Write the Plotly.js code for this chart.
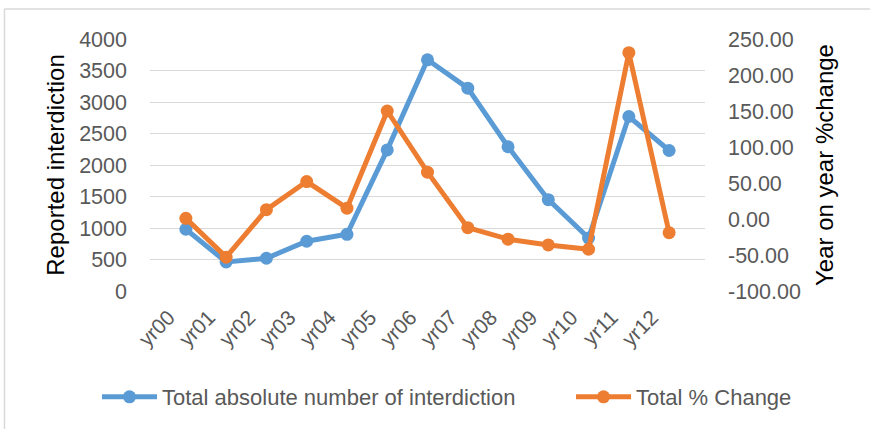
<!DOCTYPE html>
<html>
<head>
<meta charset="utf-8">
<script src="https://cdn.plot.ly/plotly-3.0.1.min.js"></script>
<style>
  html, body { margin: 0; padding: 0; background: #ffffff; }
  #chart { width: 870px; height: 429px; }
</style>
</head>
<body>
<div id="chart"></div>
<script>
const categories = ["yr00","yr01","yr02","yr03","yr04","yr05","yr06","yr07","yr08","yr09","yr10","yr11","yr12"];
const totalAbsolute = [980, 460, 520, 790, 900, 2240, 3670, 3220, 2290, 1450, 840, 2770, 2230];
const totalPctChange = [1, -53, 13, 52, 15, 150, 65, -12, -28, -36, -42, 231, -19];
const leftTickVals = [0, 500, 1000, 1500, 2000, 2500, 3000, 3500, 4000];
const rightTickVals = [-100, -50, 0, 50, 100, 150, 200, 250];
const rightTickText = rightTickVals.map(v => v.toFixed(2));

const FONT = "Liberation Sans, Arial, sans-serif";
const GRAY = "#595959";

const traces = [
  {
    x: categories, y: totalAbsolute, name: "Total absolute number of interdiction",
    type: "scatter", mode: "lines+markers", yaxis: "y", legend: "legend",
    line: { color: "#5B9BD5", width: 5 },
    marker: { color: "#5B9BD5", size: 13 }
  },
  {
    x: categories, y: totalPctChange, name: "Total % Change",
    type: "scatter", mode: "lines+markers", yaxis: "y2", legend: "legend2",
    line: { color: "#ED7D31", width: 5 },
    marker: { color: "#ED7D31", size: 13 }
  }
];

const legendCommon = {
  orientation: "h", xanchor: "left", yanchor: "middle", y: -0.4206,
  font: { family: FONT, color: GRAY, size: 22 },
  bgcolor: "rgba(0,0,0,0)", itemwidth: 55
};

const layout = {
  width: 870, height: 429,
  paper_bgcolor: "#ffffff", plot_bgcolor: "#ffffff",
  margin: { l: 150, r: 165, t: 39, b: 138, pad: 0, autoexpand: false },
  font: { family: FONT, color: GRAY, size: 21 },
  showlegend: true,
  legend: Object.assign({}, legendCommon, { x: -0.0955 }),
  legend2: Object.assign({}, legendCommon, { x: 0.7586 }),
  xaxis: {
    type: "category", tickangle: -45, showgrid: false, zeroline: false,
    showline: false, ticks: "", tickfont: { size: 21, color: GRAY },
    ticklabelshift: -17, ticklabelstandoff: 9,
    automargin: false
  },
  yaxis: {
    range: [0, 4000], tickvals: leftTickVals, showgrid: true, gridcolor: "#d9d9d9",
    gridwidth: 1, zeroline: false, showline: false, ticks: "",
    tickfont: { size: 21.5, color: GRAY }, ticklabelstandoff: 22,
    title: { text: "Reported interdiction", font: { size: 24, color: "#000000" }, standoff: 7 },
    automargin: false
  },
  yaxis2: {
    overlaying: "y", side: "right", range: [-100, 250], tickvals: rightTickVals,
    ticktext: rightTickText, showgrid: false, zeroline: false, showline: false, ticks: "",
    tickfont: { size: 21.5, color: GRAY }, ticklabelstandoff: 22,
    title: { text: "Year on year %change", font: { size: 24, color: "#000000" }, standoff: 16 },
    automargin: false
  },
  shapes: [
    { type: "line", xref: "paper", yref: "paper", x0: -0.2622, x1: -0.2622, y0: 1.119, y1: -0.6, line: { color: "#d9d9d9", width: 1.5 } },
    { type: "line", xref: "paper", yref: "paper", x0: -0.2622, x1: 1.4, y0: 1.119, y1: 1.119, line: { color: "#d9d9d9", width: 1.5 } }
  ]
};

Plotly.newPlot("chart", traces, layout, { displayModeBar: false, staticPlot: true });
</script>
</body>
</html>
